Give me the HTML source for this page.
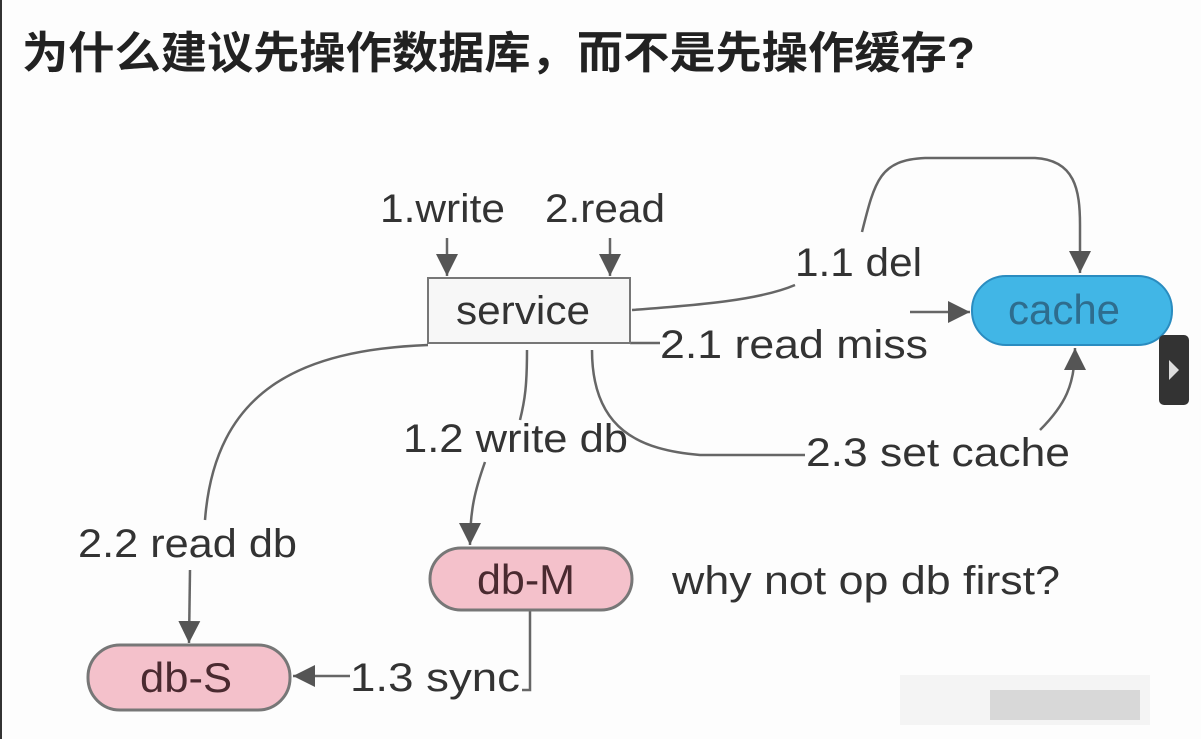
<!DOCTYPE html>
<html><head><meta charset="utf-8"><style>
html,body{margin:0;padding:0;background:#fdfdfd;}
svg{display:block}
text{font-family:"Liberation Sans","Noto Sans CJK SC",sans-serif;fill:#333}
</style></head><body>
<svg width="1201" height="739" viewBox="0 0 1201 739" xmlns="http://www.w3.org/2000/svg">
<defs>
<marker id="b" viewBox="0 0 10 10" markerWidth="22" markerHeight="22" refX="10" refY="5" orient="auto" markerUnits="userSpaceOnUse"><path d="M0,0 L10,5 L0,10 Z" fill="#555"/></marker></defs>
<rect x="0" y="0" width="2" height="739" fill="#333"/>
<text x="22" y="68" font-size="44" font-weight="bold" textLength="953" lengthAdjust="spacingAndGlyphs" style="fill:#222">为什么建议先操作数据库，而不是先操作缓存?</text>
<g stroke="#666" stroke-width="2.5" fill="none">
<line x1="447" y1="238" x2="447" y2="276" marker-end="url(#b)"/>
<line x1="610" y1="238" x2="610" y2="276" marker-end="url(#b)"/>
<path d="M632,310 C700,305 760,300 795,285"/>
<path d="M862,232 C875,180 880,160 925,158 L1035,158 C1075,160 1080,190 1080,225 L1080,273" marker-end="url(#b)"/>
<line x1="910" y1="312" x2="970" y2="312" marker-end="url(#b)"/>
<line x1="630" y1="343" x2="660" y2="343"/>
<path d="M592,350 C592,430 640,450 700,455 L805,455"/>
<path d="M1040,430 C1065,405 1075,385 1075,348" marker-end="url(#b)"/>
<path d="M527,350 C527,385 525,400 520,420"/>
<path d="M485,462 C475,490 470,510 470,545" marker-end="url(#b)"/>
<path d="M428,345 C300,350 215,390 205,520"/>
<line x1="190" y1="570" x2="189" y2="643" marker-end="url(#b)"/>
<path d="M530,610 L530,690 L522,690"/>
<line x1="350" y1="676" x2="293" y2="676" marker-end="url(#b)"/>
</g>
<rect x="428" y="278" width="202" height="65" fill="#f7f7f7" stroke="#777" stroke-width="2"/>
<text x="456" y="324" font-size="40" textLength="134" lengthAdjust="spacingAndGlyphs">service</text>
<rect x="972" y="276" width="200" height="69" rx="34" fill="#41b6e6" stroke="#2a8cc0" stroke-width="2"/>
<text x="1008" y="324" font-size="42" textLength="112" lengthAdjust="spacingAndGlyphs" style="fill:#2e6d8e">cache</text>
<rect x="430" y="548" width="202" height="62" rx="31" fill="#f4c1cb" stroke="#777" stroke-width="3"/>
<text x="477" y="594" font-size="42" textLength="98" lengthAdjust="spacingAndGlyphs" style="fill:#4a2a30">db-M</text>
<rect x="88" y="645" width="202" height="65" rx="32" fill="#f4c1cb" stroke="#777" stroke-width="3"/>
<text x="140" y="692" font-size="42" textLength="92" lengthAdjust="spacingAndGlyphs" style="fill:#4a2a30">db-S</text>
<g font-size="40" lengthAdjust="spacingAndGlyphs">
<text x="380" y="222" textLength="125" lengthAdjust="spacingAndGlyphs">1.write</text>
<text x="545" y="222" textLength="120" lengthAdjust="spacingAndGlyphs">2.read</text>
<text x="795" y="276" textLength="127" lengthAdjust="spacingAndGlyphs">1.1 del</text>
<text x="660" y="358" textLength="268" lengthAdjust="spacingAndGlyphs">2.1 read miss</text>
<text x="403" y="452" textLength="225" lengthAdjust="spacingAndGlyphs">1.2 write db</text>
<text x="806" y="466" textLength="264" lengthAdjust="spacingAndGlyphs">2.3 set cache</text>
<text x="78" y="557" textLength="219" lengthAdjust="spacingAndGlyphs">2.2 read db</text>
<text x="672" y="594" textLength="388" lengthAdjust="spacingAndGlyphs">why not op db first?</text>
<text x="350" y="691" textLength="170" lengthAdjust="spacingAndGlyphs">1.3 sync</text>
</g>
<rect x="1159" y="335" width="30" height="70" rx="5" fill="#333"/>
<path d="M1169,360 L1179,370 L1169,380 Z" fill="#ddd"/>
<rect x="900" y="675" width="250" height="50" fill="#eee" opacity="0.6"/>
<rect x="990" y="690" width="150" height="30" fill="#ccc" opacity="0.7"/>
</svg>
</body></html>
